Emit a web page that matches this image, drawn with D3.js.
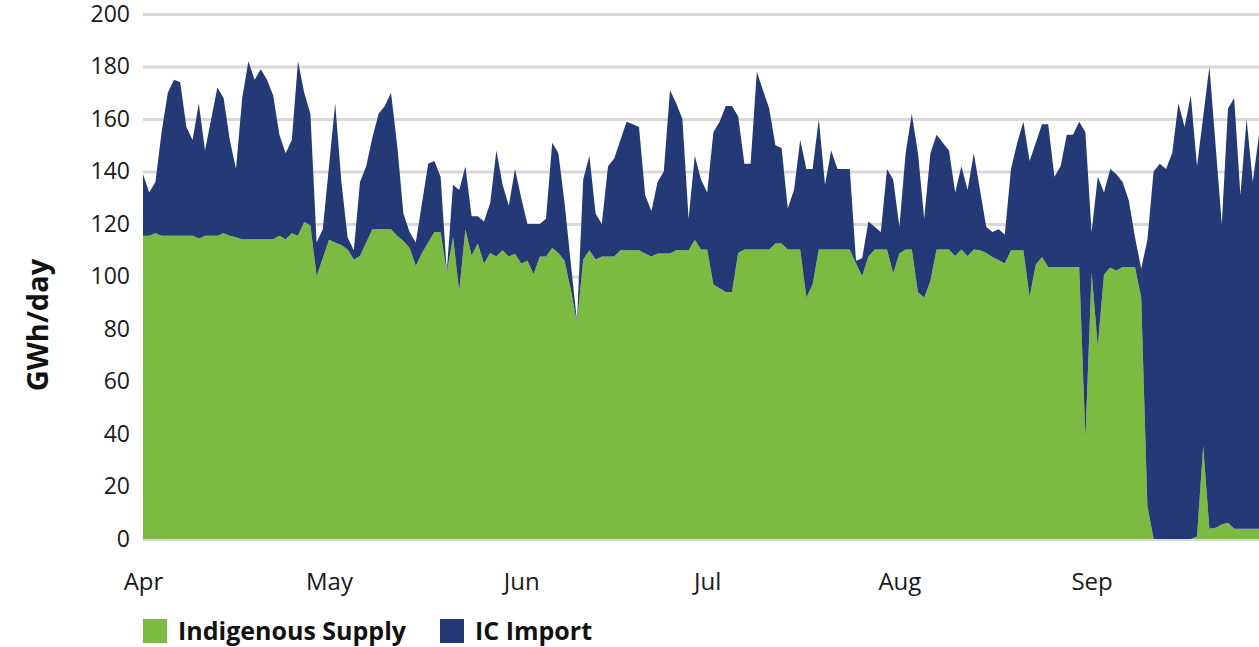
<!DOCTYPE html>
<html>
<head>
<meta charset="utf-8">
<script src="https://cdn.jsdelivr.net/npm/d3@7"></script>
<style>
    body { margin: 0; background: #fff; }
    svg { font-family: "Open Sans", sans-serif; display: block; }
</style>
</head>
<body>
<svg></svg>
<script>
// daily values from 1 Apr, GWh/day
var startDate = new Date(2021, 3, 1)
var endDate = new Date(2021, 8, 30)

// top of the stack (indigenous + IC import)
var totalSupply = [
    139,132,136,155,170,175,174,157,152,166,
    148,160,172,168,152,141,168,182,175,179,
    175,169,154,147,152,182,170,162,113,118,
    142,166,136,115,110,136,142,153,162,165,
    170,150,124,117,113,128,143,144,138,102,
    135,133,142,123,123,121,128,148,135,127,
    141,130,120,120,120,122,151,147,128,105,
    83,137,146,124,120,142,145,152,159,158,
    157,131,125,136,140,171,166,160,122,146,
    137,132,155,159,165,165,161,143,143,178,
    171,164,150,149,126,133,152,141,141,160,
    135,148,141,141,141,106,107,121,119,117,
    141,137,119,147,162,147,122,147,154,151,
    148,132,142,133,147,133,119,117,118,116,
    141,151,159,144,151,158,158,138,142,154,
    154,159,155,117,138,132,141,139,136,129,
    115,103,114,140,143,141,147,166,157,169,
    142,161,180,150,120,164,168,131,160,136,154
]

var indigenousSupply = [
    115.5,115.5,116.5,115.5,115.5,115.5,115.5,115.5,115.5,114.5,
    115.5,115.5,115.5,116.5,115.5,115,114.2,114.2,114.2,114.2,
    114.2,114.2,115.5,114.2,116.5,115.5,120.8,119.5,100.2,107,
    114,113,112,110.3,106.5,107.8,113,118,118,118,
    118,115.5,113.5,111,104,109,113,117,117,101.5,
    115,94.5,118,108,112.6,105,109,107.6,110,107.6,
    108.7,105,106,101,107.6,107.6,111,109,106,95,
    82.4,106.5,110,106.5,107.6,107.6,107.6,110,110,110,
    110,108.8,107.6,108.8,108.8,108.8,110,110,110,114,
    110.3,110.3,97,95.5,94.1,94.1,109,110.3,110.3,110.3,
    110.3,110.3,112.6,112.6,110.3,110.3,110.3,92,97,110.3,
    110.3,110.3,110.3,110.3,110.3,105,100.2,107.6,110.3,110.3,
    110.3,101.2,108.8,110.3,110.3,94,92,98.3,110.3,110.3,
    110.3,107.8,110.3,107.8,110.3,110,109,107.4,106.3,105,
    110,110,110,92.3,104.6,107.4,103.6,103.6,103.6,103.6,
    103.6,103.6,38.6,101.5,73.5,100.8,103.4,102.3,103.6,103.6,
    103.6,91.9,12.6,0,0,0,0,0,0,0,
    1,35.4,3.9,4.3,5.5,6.2,3.9,3.9,3.9,3.9,3.9
]

var seriesKeys = ["indigenous", "icImport"]
var seriesNames = ["Indigenous Supply", "IC Import"]
var seriesColors = ["#7cbb42", "#233a77"]
var yTicks = [0,20,40,60,80,100,120,140,160,180,200]

var width = 1259
var height = 647
var left = 143
var font = "'Open Sans', sans-serif"

var data = indigenousSupply.map(function(v, i){
    return {
        date: d3.timeDay.offset(startDate, i),
        indigenous: v,
        icImport: Math.max(0, totalSupply[i] - v)
    }
})

var xScale = d3.scaleTime()
                .domain([startDate, endDate])
                .range([left, left + 182*6.2])

var yScale = d3.scaleLinear()
                .domain([0,200])
                .range([539, 14])

var colorScale = d3.scaleOrdinal()
                    .domain(seriesKeys)
                    .range(seriesColors)

var svg = d3.select("svg")
    .attr("width",width)
    .attr("height",height)

// gridlines + y labels
var yAxis = d3.axisLeft(yScale)
                .tickValues(yTicks)
                .tickSize(-(width-left))
                .tickPadding(13)

var gy = svg.append("g")
    .attr("transform","translate("+left+",0)")
    .call(yAxis)
    .attr("font-family",font)
gy.select(".domain").remove()
gy.selectAll(".tick line")
    .attr("stroke","#d9d9d9")
    .attr("stroke-width",3)
gy.selectAll(".tick text")
    .attr("fill","#1a1a1a")
    .style("font-size","23px")

var stacked = d3.stack().keys(seriesKeys)(data)

var area = d3.area()
    .x(d => xScale(d.data.date))
    .y0(d => yScale(d[0]))
    .y1(d => yScale(d[1]))

svg.append("g")
    .selectAll("path")
    .data(stacked)
    .enter()
    .append("path")
        .attr("fill", d => colorScale(d.key))
        .attr("d", area)

// month labels
var xAxis = d3.axisBottom(xScale)
                .ticks(d3.timeMonth.every(1))
                .tickFormat(d3.timeFormat("%b"))
                .tickSize(0)
                .tickPadding(34)

var gx = svg.append("g")
    .attr("transform","translate(0,"+yScale(0)+")")
    .call(xAxis)
    .attr("font-family",font)
gx.select(".domain").remove()
gx.selectAll(".tick text")
    .attr("fill","#1a1a1a")
    .style("font-size","24px")

svg.append("text")
    .text("GWh/day")
    .attr("transform","translate(40,325) rotate(-90)")
    .attr("text-anchor","middle")
    .attr("dominant-baseline","middle")
    .attr("fill","#111")
    .style("font-weight","bold")
    .style("font-size","29px")

// legend
var legendX = [143, 440]
var legend = svg.append("g")
    .selectAll("g")
    .data(seriesKeys)
    .enter()
    .append("g")
        .attr("transform",(d,i) => "translate("+legendX[i]+",619)")

legend.append("rect")
    .attr("width",24)
    .attr("height",24)
    .attr("fill", d => colorScale(d))

legend.append("text")
    .text((d,i) => seriesNames[i])
    .attr("x",35)
    .attr("y",21)
    .attr("fill","#111")
    .style("font-weight","bold")
    .style("font-size","25px")
</script>
</body>
</html>
